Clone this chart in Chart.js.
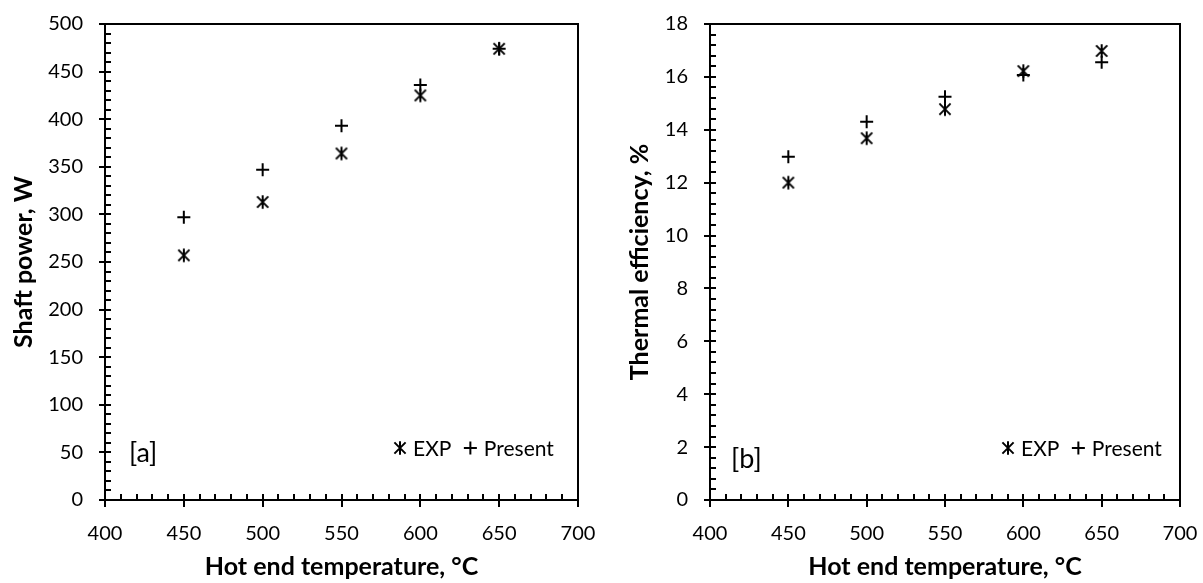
<!DOCTYPE html>
<html><head><meta charset="utf-8">
<script src="https://cdn.jsdelivr.net/npm/chart.js@4.4.1/dist/chart.umd.min.js"></script>
<style>
html,body{margin:0;padding:0;background:#fff;}
#wrap{position:relative;width:1203px;height:583px;overflow:hidden;}
canvas{position:absolute;top:0;}
</style></head><body>
<div id="wrap">
<canvas id="c1" width="600" height="583" style="left:0"></canvas>
<canvas id="c2" width="603" height="583" style="left:600px"></canvas>
</div>
<script>
// ---- data ----
const temperatures = [450, 500, 550, 600, 650];
const shaftPowerExp = [257, 313, 364, 425, 474];
const shaftPowerPresent = [297, 347, 393, 436, 474];
const efficiencyExp = [12.0, 13.68, 14.78, 16.22, 16.98];
const efficiencyPresent = [12.98, 14.30, 15.25, 16.07, 16.55];
const seriesLabels = ['EXP', 'Present'];
const xTitle = 'Hot end temperature, °C';
const yTitles = ['Shaft power, W', 'Thermal efficiency, %'];
const panelLabels = ['[a]', '[b]'];

const FONT = 'Lato';

function makeStar(){
  const s = 16, c = document.createElement('canvas');
  c.width = s; c.height = s;
  const g = c.getContext('2d');
  g.strokeStyle = '#000'; g.lineWidth = 2; g.lineCap = 'butt';
  const m = s/2, r = 5.6;
  g.beginPath();
  g.moveTo(m-r, m-r); g.lineTo(m+r, m+r);
  g.moveTo(m+r, m-r); g.lineTo(m-r, m+r);
  g.moveTo(m, m-6.8); g.lineTo(m, m+6.8);
  g.stroke();
  return c;
}
const starImg = makeStar();

const framePlugin = {
  id: 'frame',
  afterDatasetsDraw(chart, args, o){
    const {ctx, chartArea: a, scales: {x, y}} = chart;
    ctx.save();
    ctx.strokeStyle = '#000'; ctx.lineWidth = 2;
    ctx.strokeRect(a.left, a.top, a.right - a.left, a.bottom - a.top);
    ctx.beginPath();
    let n = Math.round((x.max - x.min) / o.xMinor);
    for (let i = 0; i <= n; i++){
      const px = Math.round(x.getPixelForValue(x.min + i*o.xMinor));
      ctx.moveTo(px, a.bottom); ctx.lineTo(px, a.bottom - 6);
    }
    x.ticks.forEach(t => {
      const px = Math.round(x.getPixelForValue(t.value));
      ctx.moveTo(px, a.bottom - 6); ctx.lineTo(px, a.bottom + 7);
    });
    n = Math.round((y.max - y.min) / o.yMinor);
    for (let i = 0; i <= n; i++){
      const py = Math.round(y.getPixelForValue(y.min + i*o.yMinor));
      ctx.moveTo(a.left, py); ctx.lineTo(a.left + 6, py);
    }
    y.ticks.forEach(t => {
      const py = Math.round(y.getPixelForValue(t.value));
      ctx.moveTo(a.left - 6, py); ctx.lineTo(a.left + 6, py);
    });
    ctx.stroke();

    // panel label
    ctx.fillStyle = '#000';
    ctx.font = '27px ' + FONT;
    ctx.textBaseline = 'middle'; ctx.textAlign = 'left';
    ctx.fillText(o.panel, o.panelX, o.panelY);

    // legend
    ctx.font = '21px ' + FONT;
    let lx = o.legX; const ly = o.legY;
    ctx.drawImage(starImg, lx - starImg.width/2, ly - starImg.height/2);
    lx += 13;
    ctx.fillText(seriesLabels[0], lx, ly + 1);
    lx += ctx.measureText(seriesLabels[0]).width + 19;
    ctx.beginPath();
    ctx.moveTo(lx - 6.5, ly); ctx.lineTo(lx + 6.5, ly);
    ctx.moveTo(lx, ly - 6.5); ctx.lineTo(lx, ly + 6.5);
    ctx.stroke();
    lx += 13.5;
    ctx.fillText(seriesLabels[1], lx, ly + 1);
    ctx.restore();
  }
};

function makeChart(id, expData, presData, cfg){
  return new Chart(document.getElementById(id), {
    type: 'scatter',
    data: {
      datasets: [
        {label: seriesLabels[0], data: temperatures.map((t, i) => ({x: t, y: expData[i]})),
         pointStyle: starImg, pointRadius: 8, borderColor: '#000', backgroundColor: '#000'},
        {label: seriesLabels[1], data: temperatures.map((t, i) => ({x: t, y: presData[i]})),
         pointStyle: 'cross', pointRadius: 6.5, borderWidth: 2, borderColor: '#000', backgroundColor: '#000'}
      ]
    },
    options: {
      responsive: false,
      animation: false,
      events: [],
      layout: {padding: {left: 0, top: 24, right: cfg.padRight, bottom: 0}},
      plugins: {
        legend: {display: false},
        tooltip: {enabled: false},
        frame: cfg.frame
      },
      scales: {
        x: {
          type: 'linear', min: 400, max: 700,
          grid: {display: false, drawTicks: false},
          border: {display: false},
          ticks: {stepSize: 50, color: '#000', font: {family: FONT, size: 20}, padding: 22, maxRotation: 0},
          title: {display: true, text: xTitle, color: '#000',
                  font: {family: FONT, size: 25, weight: 'bold'}, padding: {top: 0, bottom: 1}},
          afterFit: s => { s.height = 83; s.paddingLeft = 0; s.paddingRight = 0; }
        },
        y: {
          type: 'linear', min: cfg.yMin, max: cfg.yMax,
          grid: {display: false, drawTicks: false},
          border: {display: false},
          ticks: {stepSize: cfg.yStep, color: '#000', font: {family: FONT, size: 20}, padding: 22},
          title: {display: true, text: cfg.yTitle, color: '#000',
                  font: {family: FONT, size: 25, weight: 'bold'}, padding: {top: cfg.yTitlePad, bottom: 0}},
          afterFit: s => { s.width = cfg.yWidth; s.paddingTop = 0; s.paddingBottom = 0; }
        }
      }
    },
    plugins: [framePlugin]
  });
}

makeChart('c1', shaftPowerExp, shaftPowerPresent, {
  padRight: 22, yWidth: 105, yMin: 0, yMax: 500, yStep: 50, yTitle: yTitles[0], yTitlePad: 9,
  frame: {xMinor: 10, yMinor: 10, panel: panelLabels[0], panelX: 129, panelY: 453, legX: 400, legY: 448}
});
makeChart('c2', efficiencyExp, efficiencyPresent, {
  padRight: 23, yWidth: 110, yMin: 0, yMax: 18, yStep: 2, yTitle: yTitles[1], yTitlePad: 25,
  frame: {xMinor: 10, yMinor: 0.4, panel: panelLabels[1], panelX: 131, panelY: 459, legX: 408, legY: 448}
});
</script>
</body></html>
